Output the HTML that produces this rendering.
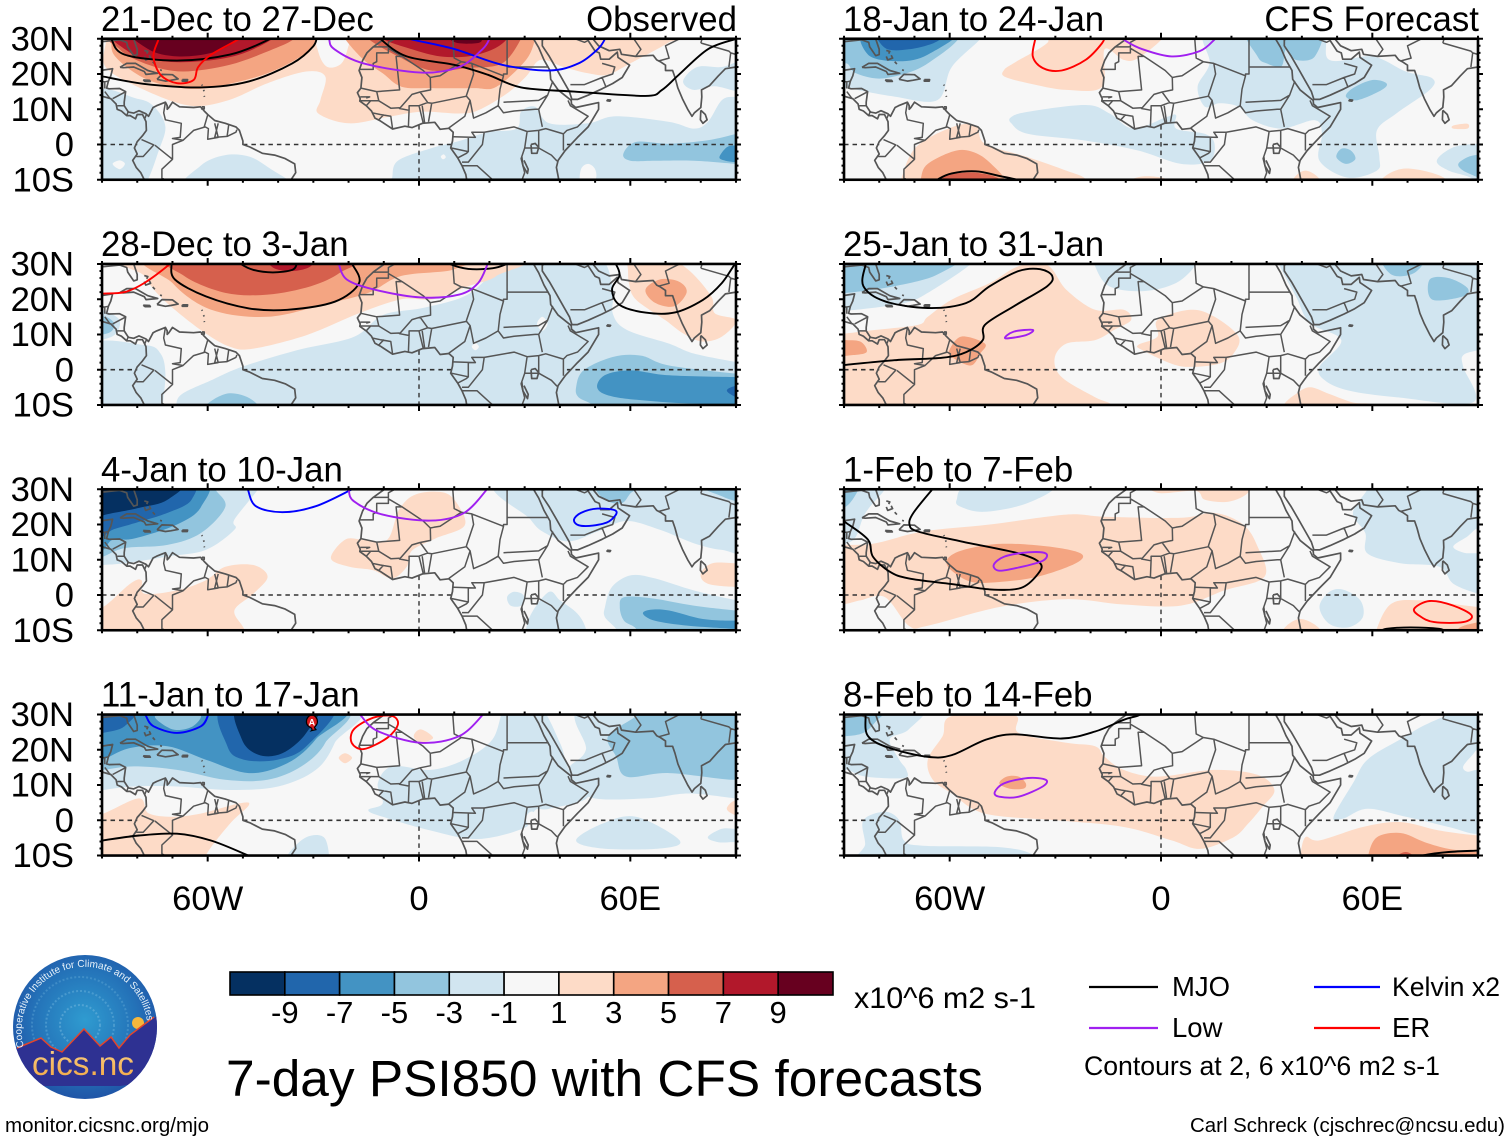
<!DOCTYPE html>
<html lang="en">
<head>
<meta charset="utf-8">
<title>7-day PSI850 with CFS forecasts</title>
<style>
html,body{margin:0;padding:0;background:#fff;width:1510px;height:1142px;overflow:hidden}
svg{display:block}
text{font-family:"Liberation Sans",Arial,sans-serif;fill:#000}
</style>
</head>
<body>
<svg id="chart" xmlns="http://www.w3.org/2000/svg" width="1510" height="1142" viewBox="0 0 1510 1142">
  <rect width="1510" height="1142" fill="#fff"/>
  <g id="panels"></g>
  <g id="colorbar"></g>

  <text x="854" y="1008" font-size="30" textLength="182" lengthAdjust="spacingAndGlyphs">x10^6 m2 s-1</text>
  <text x="226" y="1096" font-size="51.4" textLength="757" lengthAdjust="spacingAndGlyphs">7-day PSI850 with CFS forecasts</text>

  <g>
    <line x1="1089" x2="1158" y1="987" y2="987" stroke="#000" stroke-width="2.2"/>
    <text x="1172" y="996" font-size="27.5">MJO</text>
    <line x1="1314" x2="1380" y1="987" y2="987" stroke="#0000ff" stroke-width="2.2"/>
    <text x="1392" y="996" font-size="27" textLength="108" lengthAdjust="spacingAndGlyphs">Kelvin x2</text>
    <line x1="1089" x2="1158" y1="1028" y2="1028" stroke="#a020f0" stroke-width="2.2"/>
    <text x="1172" y="1037" font-size="27.5">Low</text>
    <line x1="1314" x2="1380" y1="1028" y2="1028" stroke="#ff0000" stroke-width="2.2"/>
    <text x="1392" y="1037" font-size="27.5">ER</text>
    <text x="1084" y="1075" font-size="26.4" textLength="356" lengthAdjust="spacingAndGlyphs">Contours at 2, 6 x10^6 m2 s-1</text>
  </g>

  <text x="5" y="1132" font-size="20.5" textLength="204" lengthAdjust="spacingAndGlyphs">monitor.cicsnc.org/mjo</text>
  <text x="1190" y="1132" font-size="20.5" textLength="315" lengthAdjust="spacingAndGlyphs">Carl Schreck (cjschrec@ncsu.edu)</text>

  <g>
    <defs>
      <radialGradient id="logoSky" cx="50%" cy="45%" r="60%">
        <stop offset="0" stop-color="#2f9bd0"/>
        <stop offset="0.6" stop-color="#2472b8"/>
        <stop offset="1" stop-color="#1f4ea3"/>
      </radialGradient>
      <linearGradient id="logoText" x1="0" y1="0" x2="0" y2="1">
        <stop offset="0" stop-color="#f9d48a"/>
        <stop offset="1" stop-color="#f2a33e"/>
      </linearGradient>
      <clipPath id="logoClip"><ellipse cx="85" cy="1027" rx="72" ry="72"/></clipPath>
      <path id="logoArc" d="M 24 1047 A 63 63 0 1 1 147 1021"/>
    </defs>
    <ellipse cx="85" cy="1027" rx="72" ry="72" fill="url(#logoSky)"/>
    <g clip-path="url(#logoClip)">
      <circle cx="80" cy="1025" r="20" fill="none" stroke="#6fb5dd" stroke-width="2" stroke-dasharray="2 2" opacity=".55"/>
      <circle cx="80" cy="1025" r="34" fill="none" stroke="#6fb5dd" stroke-width="2" stroke-dasharray="2 2" opacity=".45"/>
      <circle cx="80" cy="1025" r="48" fill="none" stroke="#6fb5dd" stroke-width="2" stroke-dasharray="2 2" opacity=".35"/>
      <circle cx="138" cy="1023" r="6" fill="#f6b73c"/>
      <polygon points="10,1050 17,1048 41,1038 51,1047 62,1052 84,1029 100,1046 111,1037 119,1048 130,1035 160,1014 165,1080 120,1086 40,1086 10,1080" fill="#2e3192"/>
      <polyline points="17,1048 41,1038 51,1047 62,1052 84,1029 100,1046 111,1037 119,1048 130,1035 154,1017" fill="none" stroke="#e2452c" stroke-width="1.5"/>
    </g>
    <text font-size="10" style="fill:#e8f2fa"><textPath href="#logoArc">Cooperative Institute for Climate and Satellites</textPath></text>
    <text x="32" y="1075" font-size="33.5" textLength="102" lengthAdjust="spacingAndGlyphs" style="fill:url(#logoText)">cics.nc</text>
  </g>
</svg>

<script>
// ---------- axis / category data ----------
const panelTitles = ['21-Dec to 27-Dec','28-Dec to 3-Jan','4-Jan to 10-Jan','11-Jan to 17-Jan','18-Jan to 24-Jan','25-Jan to 31-Jan','1-Feb to 7-Feb','8-Feb to 14-Feb'];
const latTickValues = [30,20,10,0,-10];
const latTickLabels = ['30N','20N','10N','0','10S'];
const lonTickValues = [-60,0,60];
const lonTickLabels = ['60W','0','60E'];
const colorbarLevels = [-10,-8,-6,-4,-2,0,2,4,6,8,10];
const colorbarTicks = ['-9','-7','-5','-3','-1','1','3','5','7','9'];

// ---------- PSI850 filled contours: [level, [[lon,lat],...]] ----------
const fill1 = [
 [-1,[[-93,14],[-80,13],[-75,10.5],[-72,5],[-74,-2],[-77,-10],[-80,-13],[-93,-13]]],
 [-1,[[-66,-13],[-62,-6],[-55,-3],[-48,-3.5],[-42,-7],[-36,-11],[-36,-14]]],
 [-1,[[-7.6,-13],[-7.6,-9.4],[-6,-4.6],[3,-1.2],[11.4,1],[19.5,3.5],[27.7,4.5],[29,9.3],[33,10.7],[37,6],[48,6],[56,8],[71,6.4],[78,4.5],[82,6.4],[86,12.6],[90,13.5],[94,13],[94,-13]]],
 [-1,[[75,18],[79,22],[86,22],[94,24],[94,15],[84,16.5],[78,15.5]]],
 [0,[[-87,-5.5],[-85,-4.5],[-83.5,-5.5],[-85,-7]]],
 [0,[[46,-7],[48,-5.5],[50,-7],[50,-10],[46,-11]]],
 [0,[[6.2,-3.4],[7,-2.8],[7.6,-3.6],[6.8,-4.2]]],
 [-3,[[58,-2.7],[61.6,0.7],[71,0.2],[82,1.2],[90,3],[94,4],[94,-6],[90,-5.5],[78,-4.6],[67,-4.6],[60,-4.6]]],
 [-5,[[85.3,-3.6],[87.4,-0.8],[90,-0.3],[94,-1],[94,-5],[90,-5],[87,-4.6]]],
 [1,[[-93,32],[-89,30],[-89,22],[-78,15.5],[-65,11],[-54,12.6],[-43,17.4],[-32,20.7],[-26.6,19.3],[-28,12.6],[-28.6,8.8],[-20,6],[-9,7.8],[0.5,9.3],[11.4,8.8],[16.8,9.7],[25,14.5],[30.4,19.3],[34.5,24],[41,22],[48,20.2],[53.5,19.8],[60,23],[71,29],[74,32]]],
 [0,[[-29,33],[-28.5,26],[-26,22],[-22,23],[-20,28],[-19,33]]],
 [3,[[-88,33],[-87.4,30],[-86.3,25],[-78,18.8],[-67.3,16],[-57.8,16.4],[-43,20.2],[-32,26],[-29.3,30],[-29,33]]],
 [3,[[-21.5,33],[-21,30],[-15.7,24],[-10.3,20.2],[-5,16.4],[3.3,16],[15.5,16],[22,16.4],[30.4,24],[33,30],[33.5,33]]],
 [5,[[-86,33],[-85,27],[-76.8,22.6],[-67,20.7],[-53.7,22.6],[-41.5,27],[-35.4,30],[-34,33]]],
 [5,[[-15,33],[-14.4,30],[-6,25],[3.3,21],[14,21.7],[23.6,23],[29,30],[29.5,33]]],
 [7,[[-85,33],[-82,26],[-72.7,23.6],[-62,23.6],[-51,25.5],[-41.5,30],[-40,33]]],
 [7,[[-11,33],[-10.3,30],[-2,27],[6,25],[14,25],[21,27],[25,30],[25.5,33]]],
 [9,[[-81,33],[-76.8,27],[-68.7,25],[-59,26],[-52,29.4],[-51,33]]],
 [9,[[8,33],[8.7,30],[11.4,28.7],[16.8,28.8],[18,30],[18.5,33]]]
];
const fill2 = [
 [-1,[[-50.3,0.8],[-34.7,5.5],[-18.5,9.3],[-10.3,15.5],[0.5,17.4],[11.4,20.2],[16.8,23.5],[22,29.3],[23,33],[49,33],[55,23.7],[55,16],[59,11.3],[71,7.4],[78,4.6],[90,2.2],[94,2],[94,-14],[-69,-14],[-69,-10.2],[-67.3,-6.9],[-59,-3]]],
 [-1,[[-94,6.5],[-78,7],[-73.4,4.6],[-72,-1.1],[-72.7,-10.2],[-72,-14],[-94,-14]]],
 [-1,[[-94,18],[-90,17],[-85,14],[-87,9.5],[-94,9]]],
 [0,[[33.5,13],[35,15],[36.5,13],[35,11]]],
 [0,[[15,6.5],[16,7.5],[17,6.5],[16,5.5]]],
 [-3,[[44.6,-5],[46.7,-0.2],[55,3.6],[63,4],[71,1.2],[90,-1.1],[94,-1],[94,-14],[49.4,-14],[49.4,-10.2],[45.3,-7.8]]],
 [-3,[[-60.5,-14],[-60.5,-10.2],[-55,-6.9],[-49.7,-7.4],[-45.6,-10.2],[-45,-14]]],
 [-3,[[-94,15.5],[-89,15],[-86.5,13],[-88,10.5],[-94,10]]],
 [-5,[[50.7,-5.4],[52.7,-1.6],[60.2,-0.2],[71,-1.6],[90,-2.1],[94,-2],[94,-14],[86,-10.2],[71,-9.3],[56,-7.8]]],
 [-7,[[87.4,-5.9],[90,-4.5],[94,-4],[94,-9],[90,-7.8]]],
 [1,[[-80,33],[-78,26.6],[-72.7,20],[-62,11.3],[-53.7,6.5],[-47,6],[-32,9.8],[-17,16],[-5,20],[4,20],[14,23.7],[22,26.6],[25,33]]],
 [1,[[59,30],[59.6,24.6],[61.6,19.9],[70,14],[75,10.3],[80.4,8],[86,9.4],[90,14],[84,16],[83,20.8],[76.3,28.5],[68,33],[56,33]]],
 [3,[[64.3,22.7],[67,19],[72.5,18],[76,22],[73.8,25],[68.4,25.6]]],
 [3,[[-73.4,33],[-70,24.6],[-59,17],[-43,15],[-26.6,18.6],[-14.4,21.8],[-5,26.6],[10,28.5],[10,33]]],
 [5,[[-70.5,33],[-66.7,26.6],[-55,21.8],[-43,21.3],[-30.7,23.7],[-22.5,27.5],[-17.8,33]]],
 [7,[[-43,33],[-41.5,29],[-36,28],[-30.7,29.4],[-30,33]]]
];
const fill3 = [
 [-1,[[-45.6,33],[-45.6,30.2],[-52.4,21.4],[-52.4,18.5],[-60.5,12.8],[-71.4,10.9],[-83.6,9],[-89.7,8.5],[-94,8],[-94,33]]],
 [-1,[[24.3,33],[31.7,21.4],[35.8,17.6],[42.6,15.2],[50.7,18],[58.9,21],[68.4,18.5],[78,14.7],[86,12.8],[94,13],[94,33]]],
 [-1,[[52.8,-3.4],[54.8,2.3],[60.2,5.6],[67,4.7],[78,1.3],[90,-1.5],[94,-2],[94,-14],[56.2,-14],[56.2,-10],[52.8,-6.3]]],
 [-1,[[25,-0.6],[27,0.9],[29.7,-0.1],[29,-3],[26,-3]]],
 [-1,[[30.4,-14],[30.4,-9.6],[32.4,-4.4],[37,0.9],[40,-1.5],[45,-5.3],[47.4,-9.6],[47.4,-14]]],
 [-3,[[-57.8,33],[-57.8,30],[-55,25],[-61.9,17.6],[-71.4,14.2],[-83.6,13.3],[-89.7,10.9],[-94,10],[-94,33]]],
 [-3,[[50.7,31],[52.8,27],[57.5,26],[60.2,29],[63,31]]],
 [-3,[[80.6,31],[86,28],[90,26.6],[94,26],[94,33]]],
 [-3,[[57,-3.4],[58.3,-0.6],[66.4,-1],[78,-3],[90,-4.4],[94,-4.5],[94,-14],[61.6,-14],[61.6,-9.6],[58.2,-7.3]]],
 [-5,[[-61.9,33],[-61.9,25],[-68.7,20],[-81,16],[-87,15.7],[-89.7,12.8],[-94,12],[-94,33]]],
 [-5,[[63.6,-5.3],[65.7,-4.2],[71,-4.4],[80.6,-6.8],[90,-7.3],[94,-7],[94,-9.8],[90,-9.6],[76.5,-8.7],[67,-7.3]]],
 [-7,[[-66,33],[-64.6,27],[-71.4,23.3],[-82,20],[-87,18.5],[-89.7,16.6],[-94,15],[-94,33]]],
 [-9,[[-67.3,33],[-71.4,27],[-79.5,24.7],[-89,22.8],[-94,21],[-94,33]]],
 [1,[[-94,-14],[-94,-3],[-89.7,-3.4],[-82,3.2],[-78.8,4.2],[-78,0.4],[-68.7,1.3],[-60.5,4.2],[-55,8],[-47,8.5],[-43,5.2],[-47,0.4],[-52.4,-4.4],[-49.7,-9.6],[-49,-14]]],
 [1,[[-25,10.4],[-21,15.7],[-15.7,15.7],[-9,15.7],[-5.6,24.3],[-0.8,28.6],[7.3,29],[11.4,25],[12.8,19.5],[4.6,16],[-2,12.6],[-3.5,8],[-7.6,4.7],[-13,7],[-19.8,8]]],
 [1,[[80,6],[83.3,9],[90,9],[94,9],[94,2.5],[90,2.3],[82,3.2]]]
];
const fill4 = [
 [-1,[[-20.5,33],[-23.9,22],[-29.3,14.3],[-40,9.6],[-53.7,8.6],[-68.7,9.6],[-81,9.6],[-89.7,8.6],[-94,8],[-94,33]]],
 [-1,[[-14.4,2.9],[-10.3,4.8],[-11.7,10.5],[-7.6,15.3],[3.3,14.3],[12.8,17.2],[20.9,23],[25,33],[33.8,33],[40,22],[42.6,14.3],[48,6.7],[37,3.3],[33,2.9],[30.4,-1.9],[16.8,-5.3],[3.3,-2.9],[-10.3,1]]],
 [-1,[[47.4,33],[47.4,20],[42.6,14.3],[48,6.7],[64.3,6.2],[76.5,7.6],[90,6.2],[94,6],[94,33]]],
 [-1,[[44.6,-5.7],[52,-1],[61.6,1],[74,-5.7],[68.4,-8],[52,-8]]],
 [-1,[[82,-4.8],[86,-2.4],[90,-2.4],[94,-2],[94,-7],[90,-6.2],[85,-6.2]]],
 [-1,[[-37.4,-14],[-37.4,-10],[-32,-4.8],[-26.6,-5.3],[-26.6,-14]]],
 [0,[[30.5,1],[32,2.5],[34,1],[33,-1],[31,-1.5]]],
 [-3,[[-24,33],[-26.6,22],[-33.4,15.3],[-43,11.5],[-55,11.5],[-68.7,14.3],[-81,15.3],[-89.7,14.3],[-94,14],[-94,33]]],
 [-3,[[53.7,23.9],[61.6,29.6],[63,33],[94,33],[94,14],[90,11.5],[71,13.4],[58.9,12.4],[56,18]]],
 [-5,[[-24,33],[-29.3,23],[-37.4,16.2],[-48.3,13.4],[-60.5,17.2],[-71.4,21],[-82,20.5],[-89.7,17.2],[-94,16],[-94,33]]],
 [-3,[[-75,29.5],[-68,29.8],[-62,29.8],[-64.5,26.5],[-70,25.8]]],
 [-7,[[-24.6,33],[-32,21],[-40.2,17.2],[-49.7,17.2],[-54.4,21],[-55,33]]],
 [-7,[[-94,24],[-89.7,24.8],[-83.6,26.7],[-79.5,33],[-94,33]]],
 [-9,[[-29.3,33],[-32,24.8],[-38.8,19],[-45.6,18.6],[-50.3,23],[-51,33]]],
 [1,[[-94,2],[-89.7,1.9],[-79.5,6.2],[-76.8,2],[-70,1],[-62,1.9],[-51,4.8],[-48.3,4.3],[-53.7,-1],[-60.5,-10],[-60,-14],[-94,-14]]],
 [1,[[-22.8,17.7],[-21,19],[-19,17.7],[-21,16.2]]],
 [1,[[-1.5,23.9],[0.5,25.8],[4,23.4],[0.5,22]]],
 [1,[[87.4,3.3],[90,5.7],[94,4],[94,1],[90,1.4]]]
];
const fill5 = [
 [-1,[[-51.3,33],[-51.3,30],[-59.4,22],[-63.5,12.6],[-75.7,13.6],[-89.3,16],[-94,16],[-94,33]]],
 [-1,[[-42.5,7.8],[-37.7,9.3],[-21.4,11.2],[-14.6,8.8],[-7.9,4.5],[1.6,7.8],[4.3,8.3],[4.3,4.5],[12.5,3],[15.2,0.2],[13.8,-4.6],[5.7,-5.5],[-6.5,-1.7],[-21.4,1.1],[-37.7,3],[-42.5,6]]],
 [-1,[[10.4,16.4],[13.8,23],[13.8,33],[43.7,33],[47.8,24],[60,25],[69.5,20.7],[77,18.8],[76.3,15.5],[66.8,8.8],[61.3,4],[62,-3.6],[61.3,-7.4],[53,-9.4],[45,-4.6],[45.7,3],[43.7,6.9],[34.2,4.5],[26,6.9],[22,10.7],[16.6,11.7],[12.5,10.7]]],
 [-1,[[78.3,-4.6],[83,-0.8],[90,0.2],[94,0],[94,-14],[88.5,-14],[88.5,-9.8],[81.7,-7.4]]],
 [-3,[[-58,33],[-66.2,23],[-78.4,18.8],[-86.6,20.2],[-89.3,23],[-94,22],[-94,33]]],
 [-3,[[24.7,33],[27.4,25],[30,23],[34.2,22.2],[35.5,27],[38.3,24],[43.7,25],[44.4,33]]],
 [-3,[[52.5,13.6],[54.5,16],[60,18.3],[64,17.4],[62.7,15.5],[55.9,12.6]]],
 [-3,[[49.8,-3.6],[51.2,-1.2],[53.9,-1.7],[55.2,-4.1],[52.5,-5.5]]],
 [-3,[[84.4,-5.5],[87,-3.6],[90,-2.9],[94,-3],[94,-12],[90,-9.4],[85.8,-7.4]]],
 [-5,[[-83.2,33],[-83.2,25.5],[-74.4,23.6],[-66.2,25.5],[-57.4,33]]],
 [-7,[[-79.8,33],[-78.4,27.4],[-71.6,27],[-63.5,29.3],[-62,33]]],
 [1,[[-44.5,21.2],[-41.8,23.1],[-32.3,28.8],[-31,33],[0.3,33],[0.3,30],[-6.5,24.5],[-10.6,24],[-16,27],[-16.7,16.4],[-26.9,15.5],[-37.7,17.4],[-44.5,19.3]]],
 [1,[[-73.7,-14],[-73.7,-9.8],[-69.6,-0.8],[-59.4,4.9],[-52.6,5.4],[-50,0.2],[-37.7,-3.6],[-26.9,-7.4],[-21.4,-9.8],[-21,-14]]],
 [1,[[37.6,-14],[37.6,-9.8],[41,-7.4],[45,-9.8],[45,-14]]],
 [1,[[62.7,-14],[62.7,-9.8],[69.5,-6.8],[80.3,-9.4],[80.3,-14]]],
 [1,[[-8,-12],[-8,-9.8],[-3.8,-9],[1.6,-9.8],[1.6,-12]]],
 [1,[[83,5.4],[87,5.9],[87,4.5],[83,4.5]]],
 [3,[[-68.2,-14],[-68.2,-9.8],[-66.2,-5.5],[-58,-1.7],[-52,-2.7],[-47.2,-6.5],[-44.5,-9.8],[-44,-14]]],
 [5,[[-63.2,-14],[-63.2,-9.8],[-59.4,-8.4],[-52.6,-8],[-45.9,-9.8],[-46,-14]]]
];
const fill6 = [
 [-1,[[-54,33],[-54,30],[-66.2,21.8],[-73,18.9],[-86.6,17],[-89.3,17],[-94,17],[-94,33]]],
 [-1,[[-18.7,33],[-18.7,29.4],[-14.7,23.7],[-5,22.3],[4.3,24.6],[9.8,29.7],[9.8,33]]],
 [-1,[[33.5,33],[33.5,30],[38.3,20.8],[42.3,13.2],[51.2,8.4],[45,0.8],[46.5,-3],[53.2,-5.9],[66.8,-7.8],[88.5,-9.3],[85.8,0.8],[85.8,4.1],[90,5.5],[94,6],[94,33]]],
 [-3,[[-58,33],[-63.5,27],[-75.7,23.7],[-89.3,21.8],[-94,22],[-94,33]]],
 [-3,[[76.3,25.6],[81.7,26],[87,23.2],[85.8,20.8],[77,19.9]]],
 [-3,[[62.7,33],[65.4,27],[72,27.5],[75,33]]],
 [1,[[-94,10],[-89.3,10.3],[-81,11.3],[-69,12.7],[-66.2,15],[-59.4,19.9],[-48.6,24.6],[-40.4,29.4],[-32.3,29.7],[-26.9,22.7],[-18.7,17],[-10.6,17],[-8.5,14.1],[-13.3,11.3],[-18.7,8.4],[-26.9,7.4],[-30.2,3.2],[-28.2,-2.1],[-18.7,-7.8],[-14,-10],[-14,-14],[-94,-14]]],
 [1,[[-6.5,7],[-1,9.4],[-1,14.1],[8.4,17],[15.2,15],[22,9.4],[20.6,4.6],[16.5,1.7],[8.4,0.8],[3,1.7],[-5.2,5.5]]],
 [1,[[34.9,-14],[34.9,-10],[38.3,-6.9],[42.3,-5],[47.8,-6.9],[54.5,-9.3],[60,-10],[60,-14]]],
 [3,[[-60.1,5.5],[-56.7,9.4],[-50,7.4],[-51.3,4.6],[-54,1.2],[-59.4,3.6]]],
 [3,[[-94,8.4],[-89.3,8.4],[-85.2,7.9],[-83.6,5],[-88,4.1],[-94,4]]]
];
const fill7 = [
 [-1,[[-78.4,33],[-78.4,30],[-83.9,23.3],[-86.6,16.6],[-89.3,14.7],[-94,14],[-94,33]]],
 [-1,[[-58,27],[-54,31],[-31,31],[-38.1,26],[-50,23.6],[-56.8,25]]],
 [-1,[[58.6,33],[58.6,30],[54.5,23.3],[58,17.6],[58.6,11.8],[68,9],[79,8],[83,3.2],[90,0.4],[94,0],[94,33]]],
 [0,[[83,13.8],[87,16.6],[90,19],[94,19],[94,11],[90,11.8],[86,12]]],
 [-1,[[45,-3.4],[47.8,0.9],[51.8,1.5],[56.6,-1.5],[57.3,-6.3],[53.2,-9.2],[47.8,-8.2]]],
 [-3,[[-85.9,33],[-85.9,30],[-89.3,25.2],[-94,25],[-94,33]]],
 [1,[[-94,14],[-89.3,14.2],[-81,14.7],[-67.6,18],[-48.6,20],[-26.9,22.8],[-16,22.2],[5.7,21.9],[15.2,23.3],[23.3,20],[27.4,13.8],[29.4,5.2],[18,1.3],[5.7,-3],[-10.6,-2.7],[-26.9,-1.2],[-45.9,-3.4],[-66.2,-8.7],[-71.6,-8.7],[-78.4,-0.6],[-85.2,-1.5],[-89.3,-2.5],[-94,-3]]],
 [1,[[-3.8,33],[-1,29],[9.8,29.5],[12.5,27],[19.3,26.5],[24.7,29],[24.7,33]]],
 [1,[[61.3,-14],[61.3,-9.6],[65.4,-2.5],[73.5,-1.5],[90,-3.4],[94,-3],[94,-14]]],
 [1,[[34.9,-14],[34.9,-9.6],[39.6,-6.8],[45,-9.6],[45,-14]]],
 [3,[[-60.8,9.9],[-56.7,12.6],[-45.9,14.5],[-32.3,13.8],[-22.8,11.8],[-24.2,9],[-35,5.2],[-45.9,3.7],[-53.7,3.7],[-59.4,6.9]]],
 [3,[[84.4,-14],[84.4,-9.6],[90,-7.7],[94,-7],[94,-14]]]
];
const fill8 = [
 [-1,[[-67.6,33],[-71.6,25.8],[-77,23],[-74.3,17.2],[-72.3,14.3],[-73,12],[-83.9,12.4],[-89.3,14.3],[-94,14],[-94,33]]],
 [-1,[[-84.5,0],[-78.4,2.4],[-74.3,0],[-73,-5.7],[-67.6,-7.2],[-45.9,-7.6],[-36.4,-9.8],[-36,-14],[-84,-14],[-84,-6.7]]],
 [-1,[[49,1],[54.5,10.5],[58.6,17.2],[68,23],[76.3,27.7],[90,33],[94,33],[94,0],[90,-3.8],[81.7,-1.9],[69.5,1],[58.6,3.3],[51.8,0.5]]],
 [0,[[85.8,15.3],[88.5,18.6],[90,20],[94,20],[94,13],[90,14.3],[87,13.8]]],
 [-3,[[-77.5,33],[-81,28],[-84.5,24.8],[-89.3,23.9],[-94,24],[-94,33]]],
 [1,[[-66.2,17.2],[-62,23.9],[-59.4,29.6],[-41.8,29.9],[-40.4,24.8],[-26.9,22],[-18.7,21],[-16,18],[-10.6,14.3],[-1,12.4],[15.2,14.3],[27.4,12.9],[32.2,8.6],[28.8,3.8],[24.7,-1],[20.6,-4.8],[11.1,-8.1],[3,-5.7],[-10.6,-1.9],[-29.6,0],[-50,1.9],[-59.4,7.6],[-64.8,11.5]]],
 [1,[[39.6,-14],[39.6,-10],[41,-4.8],[45,-5.7],[57.3,-1.9],[68,-0.5],[79,-2.9],[90,-4.3],[94,-4],[94,-14]]],
 [3,[[-45.9,10.5],[-43.8,12.4],[-40.4,12.4],[-38.4,10.5],[-39,9],[-43.1,9]]],
 [3,[[58.8,-14],[58.8,-10],[61.3,-4.8],[68,-3.6],[74.9,-6.2],[81.7,-8.1],[90,-9],[94,-9],[94,-14]]],
 [5,[[67.3,-12],[67.3,-10],[69.5,-9],[71.5,-10],[71.5,-12]]]
];
const panelFills = [fill1,fill2,fill3,fill4,fill5,fill6,fill7,fill8];

// ---------- filtered contour lines: [wave, closed, [[lon,lat],...]] ----------
const lines1 = [
 ['mjo',0,[[-89.7,19.3],[-78,17.2],[-62,16.2],[-48.3,17.9],[-36,23],[-30,27.9],[-29,31]]],
 ['mjo',0,[[-88,32],[-87.4,30],[-83.6,25.5],[-68.7,23.8],[-53.7,25.5],[-43,29.6],[-42,31]]],
 ['mjo',0,[[-12,32],[-11,30],[-3.5,25],[10,22.6],[19.5,19.8],[29,16.2],[44,15],[64.3,13.8],[69,15.5],[73.8,19.8],[82,27],[90,30],[92,31]]],
 ['kelvin',0,[[-3,30.5],[-2,29.8],[10.3,27],[23.6,22.6],[37,21],[45.3,23],[50.7,27],[52.8,30],[53,32]]],
 ['low',0,[[-25.6,32],[-25.5,29.8],[-24,27],[-15.7,23],[0.5,20.4],[11.4,22],[18,27],[20,30],[20.5,32]]],
 ['er',0,[[-74,31],[-74,29.8],[-75.4,25],[-73.4,19.8],[-68.7,17.4],[-64,18.3],[-62.7,22],[-59,25.5],[-51.7,29.6],[-50,31]]]
];
const lines2 = [
 ['mjo',0,[[-70.3,31],[-70.3,30],[-69.3,25.6],[-60.5,20.8],[-48.3,17.4],[-37.4,17],[-23.9,19.3],[-17,24.6],[-19,30],[-20,31]]],
 ['mjo',0,[[-51,31],[-50.6,30],[-47,28.3],[-41.5,27.6],[-36,28.3],[-34.7,30],[-34.5,31]]],
 ['mjo',0,[[8,31],[8.7,30],[14,28.6],[21,28.8],[25,30],[27,31]]],
 ['mjo',0,[[55,31],[56.2,29.4],[56.9,26.6],[54.8,22.8],[56.9,18.4],[64.3,16.2],[72.5,16.2],[80.6,19.8],[86,24.6],[90,30.4],[92,32]]],
 ['low',0,[[-23,31],[-22.8,30],[-20.5,25.6],[-13,22.8],[0.5,20.5],[11.4,21.3],[16.8,24.6],[19.5,30],[20,31]]],
 ['er',0,[[-92,21.6],[-89.7,21.6],[-83.6,22],[-78,24.6],[-70.7,30],[-69,32]]]
];
const lines3 = [
 ['kelvin',0,[[-48.8,31],[-48.6,30],[-46.3,25.2],[-38.8,23.5],[-29.3,25.2],[-19,30],[-17,31]]],
 ['kelvin',1,[[44,21.4],[46,23.3],[50.7,24.5],[56,23.8],[54,20.9],[49.4,19.7],[45.3,19.8]]],
 ['low',0,[[-20.3,31],[-20,30],[-18.5,26.6],[-10.3,22.8],[3.3,21.1],[12.8,23.3],[19.3,30],[19.6,31]]]
];
const lines4 = [
 ['kelvin',0,[[-78,31],[-77.5,29.6],[-75.4,26.7],[-68.7,24.8],[-61.9,26.7],[-59.8,30],[-59.6,31]]],
 ['er',1,[[-19.1,22],[-18.5,25.8],[-13,29.1],[-7.6,29.6],[-6,27.2],[-9,23.4],[-15.7,20.2]]],
 ['low',0,[[-17,31],[-16.4,29.6],[-11.7,25.3],[0.5,22],[11.4,23.9],[18.2,30],[18.8,31]]],
 ['mjo',0,[[-92,-6],[-89.7,-5.7],[-79.5,-4.3],[-68.7,-3.8],[-59.2,-5.7],[-49,-9.8],[-47,-11]]]
];
const lines5 = [
 ['er',0,[[-35.6,31],[-35.7,30],[-36.4,25],[-33.6,21.7],[-28.2,21],[-21.4,24],[-16.7,28.8],[-16,31]]],
 ['low',0,[[-11,30.5],[-9.9,29.3],[-5.2,27],[3,25],[11,26.5],[15.2,29.8],[16,31]]],
 ['mjo',0,[[-64,-11],[-63.2,-9.8],[-59.4,-8.2],[-52.6,-7.6],[-45.9,-8.9],[-40.4,-10.1],[-39,-11]]]
];
const lines6 = [
 ['mjo',0,[[-92,1.2],[-89.3,1.4],[-75.7,2.7],[-62,3.4],[-55.3,5],[-50.6,8.4],[-50,12.7],[-41.8,18],[-32.3,23.7],[-30.9,26.6],[-34.3,28.5],[-40.4,28],[-48.6,23.7],[-55.4,18.9],[-66.2,17.5],[-78.4,19.4],[-84.5,23.7],[-83.9,29.7],[-83.5,31]]],
 ['low',1,[[-44.2,8.9],[-41.8,10.8],[-36.4,11.3],[-38.4,9.8]]]
];
const lines7 = [
 ['mjo',0,[[-64,31],[-64.9,30],[-70.3,23.3],[-71.4,20],[-69,18],[-56.7,15.2],[-40.4,11.8],[-34.3,9],[-35,5.9],[-39.8,2],[-48.6,1.6],[-59.4,3.1],[-71.6,4.7],[-77,6.6],[-81.8,10.9],[-83.2,15.7],[-89.3,20.4],[-92,22]]],
 ['low',1,[[-47.5,8.5],[-44.5,10.9],[-37.7,12.1],[-32.7,11.8],[-33.6,9.7],[-40.4,7.8],[-45.9,6.9]]],
 ['er',1,[[71.9,-3.9],[76.3,-1.7],[83,-3],[88.2,-5.8],[85.8,-7.7],[77.6,-7.7],[73.5,-6]]],
 ['mjo',0,[[62,-10.5],[64,-9.6],[70.8,-9.2],[79,-9.6],[81,-10.5]]]
];
const lines8 = [
 ['mjo',0,[[-84,31],[-83.9,29.7],[-83.2,23.9],[-77,20.5],[-66.2,18],[-59.4,18.5],[-49.9,22.8],[-41.8,24.4],[-28.2,23.2],[-18.7,25.2],[-10.6,28.5],[-6.5,29.7],[-4,31]]],
 ['mjo',0,[[72,-11],[74.2,-10],[81.7,-9],[90,-8.6],[92,-8.6]]],
 ['low',1,[[-47.2,8],[-44.5,10.5],[-37.7,12],[-32.7,11.5],[-33.6,9.6],[-40.4,6.7],[-45.9,6.7]]]
];
const panelLines = [lines1,lines2,lines3,lines4,lines5,lines6,lines7,lines8];

// tropical cyclone marker: [panelIndex, lon, lat, label]
const stormMarkers = [[3,-30.4,27.7,'A']];

// ---------- map outlines (lon,lat) ----------
const coastlines = [
 [[-92,14.3],[-90,13.7],[-87.5,13],[-86,11.5],[-85.7,10],[-84.5,9.5],[-83,8.2],[-82,8.2],[-80.5,7.3],[-80,8.5],[-78.5,8.5],[-78,7.5],[-77.5,6.5],[-77.4,4],[-78.5,2.5],[-80,0.8],[-80.8,-1],[-80,-2.7],[-81.3,-4.5],[-80.3,-6.5],[-79,-8],[-78,-10],[-77.5,-12]],
 [[-92,18.6],[-91,19],[-90.4,21],[-87,21.5],[-87.5,19.5],[-88.2,18],[-88.7,16],[-88,15.8],[-85,15.9],[-83.3,15],[-83.7,12],[-83.7,11],[-82.5,9.2],[-81,8.9],[-79.5,9.6],[-77.5,8.7],[-76.8,8],[-75.5,10.5],[-74.5,11],[-72,12],[-71.5,11],[-71.5,10],[-71,10.5],[-70,12],[-68,10.7],[-64,10.5],[-62,10.7],[-61,9.5],[-60,8.5],[-58,6.8],[-55,6],[-52,5],[-51,4],[-50,1],[-50,0],[-48,-0.7],[-44.5,-2.5],[-41,-3],[-38,-4],[-35.3,-5.5],[-35,-8],[-37,-11],[-38,-13]],
 [[-92,29.3],[-90,29.2],[-85,29.7],[-83,29],[-82.7,27.7],[-81,25.2],[-80,25.5],[-80,27],[-81,30],[-81,32]],
 [[-84.9,21.9],[-83,23],[-80.5,23],[-77,21],[-74.2,20.2],[-77.5,19.9],[-78,20.7],[-81,22],[-84,21.8],[-84.9,21.9]],
 [[-74.4,18.5],[-73,19.9],[-70,19.8],[-68.4,18.6],[-70.5,18.2],[-72,18],[-74.4,18.5]],
 [[-78.3,18.3],[-76.5,18.2],[-76.3,17.9],[-77.8,17.9],[-78.3,18.3]],
 [[-67.2,18.4],[-65.7,18.4],[-65.8,18],[-67.2,18],[-67.2,18.4]],
 [[-78,26.7],[-77,26.4],[-77.3,25.8]],[[-78,25],[-77.6,24],[-76.2,24.5],[-76.6,25.3]],[[-75.6,23.5],[-75,22.8]],[[-73.5,21.2],[-73,21]],
 [[-61.7,17],[-61.5,16.7]],[[-61.2,15.5],[-61,15.1]],[[-61,13.8],[-60.9,13.5]],
 [[-61.6,10.7],[-61,10.7],[-61,10.1],[-61.7,10.1],[-61.6,10.7]],
 [[-8.5,32],[-9.8,30],[-13,27.7],[-14.8,26],[-16,23.8],[-17,21],[-16.2,19],[-16.5,16],[-17.5,14.7],[-16.7,13],[-16.8,12.3],[-15,11],[-13.5,9.5],[-12.5,7.5],[-11,6.7],[-7.5,4.4],[-4,5.2],[-2,4.8],[1,6],[4.5,6.3],[6,4.3],[8.5,4.6],[9.7,3.5],[9.5,1],[9,-1],[11,-3.8],[12.2,-6],[13.3,-8.5],[13.7,-11],[13.5,-13]],
 [[32.5,32],[32.5,30],[34,27.5],[35.5,24],[37.2,21],[37.4,18.5],[39.5,15.5],[43.2,12.5],[43.3,11.5],[44.5,10.5],[51,11.9],[51,10],[48,5],[45,2],[41.5,-1.7],[39.5,-4.5],[39,-6.5],[39.7,-10],[40.5,-13]],
 [[35,32],[35,28],[37,25],[39,21.5],[41,18],[42.7,15],[43.4,12.8],[45,12.8],[48,14],[52,15.8],[55,17.3],[57.7,19],[59.8,22.5],[56.5,24.7],[56.3,26.2],[54,24.2],[51.6,24.2],[51.2,26],[50,26.5],[48,29.5],[47.8,30],[49,30.4],[51,28],[54,26.6],[57,27],[57.5,25.6],[61.5,25],[66.5,25.3],[67.5,24],[68.5,23.5],[70,22.5],[70,21],[72,21],[72.7,19],[73.5,16],[74.8,13],[76.3,10],[77.5,8],[78.2,9],[80,10.5],[80.3,13.5],[80.2,15.5],[82.5,16.7],[85,19.5],[87,21.5],[90,22],[92,21]],
 [[80,9.7],[81.3,8.5],[81.8,7],[80.6,6],[79.9,7],[80,9.7]],
 [[53.4,12.7],[54.4,12.6],[54.2,12.3],[53.4,12.4],[53.4,12.7]],
 [[31.8,0],[33,0.3],[34,-0.8],[33.5,-2.5],[32,-2.5],[31.8,0]],
 [[29.2,-3.5],[29.5,-6],[30.8,-8.2],[31,-7],[29.8,-4.5]]
];
const borders = [
 [[-13,27.7],[-8.7,27.7],[-8.7,29],[-5,31]],
 [[-17,21.3],[-13,21.3],[-13,23],[-12,23.5],[-12,26],[-8.7,26],[-8.7,27.3],[-4.8,25],[-6.5,25],[-5.5,15.5],[-12,15],[-16.5,16]],
 [[-4.8,25],[1.2,21],[3.2,19],[4.2,19.2],[6,19.5],[12,23.5],[10,24.5],[9.5,31]],
 [[12,23.5],[15,23],[24,19.5],[24,20],[25,20],[25,22],[25,32]],
 [[25,22],[36.8,22]],
 [[3.2,19],[3.3,15.5],[0.3,14.9],[-2,14.2],[-5.5,10.2],[-2.8,9.7]],
 [[15,23],[15.5,20],[13.5,14],[13.5,13.7],[3.6,11.7],[2.7,6.4]],
 [[1.6,6.2],[0.9,11]],[[1.2,6.1],[0,11]],[[-3,5],[-2.8,10],[-2.8,11],[0,11],[2.4,11.9],[3.6,11.7]],[[2.4,12],[0.3,14.9]],
 [[-12,15],[-11.4,12.4],[-16.7,12.4]],[[-16.7,13.5],[-14,13.5],[-15,13.2]],[[-11.4,12.4],[-8,10.3],[-5.5,10.4]],[[-13.3,9],[-11,8.5],[-8,8],[-7.5,4.4]],[[-15,11],[-13.7,12.4]],[[-11.4,7],[-10,8.5]],
 [[24,19.5],[23,15.7],[22.5,11],[19,9],[15.5,7.5],[14.5,12.5],[13.5,13.7]],
 [[14.5,12.5],[13,8],[8.5,4.7]],
 [[9.8,2.2],[16,2],[15,3.5],[18.5,3.5],[27,5],[30.7,3.7],[34,4]],
 [[22.5,11],[24,9],[27,9.5],[33,10],[34,10],[35,5]],
 [[24,12],[34,12.5],[36.5,14],[34,10]],[[36.5,14],[38,18]],[[42.3,12.5],[43,11],[48,8],[45,5],[42,4],[41,3]],
 [[41,-1.7],[41,3],[36,4.5],[34,4],[34,-1],[37.6,-3],[39.2,-4.7]],[[30,-1],[34,-1]],[[40,-10.5],[35,-11]],
 [[30.7,3.7],[30,-1],[29,-4],[30,-8],[28.5,-12]],
 [[9.2,-1],[14,-2],[13.5,-2.5],[11,-3.8]],[[14,2],[14,-2]],[[12.2,-6],[16.5,-6],[22,-11]],[[12.2,-5],[14,-5],[18,0],[18.5,3.5]],
 [[43,17],[47,17],[52,19],[55,20],[55.6,22],[52,23]],[[52,19],[53,16.5]],[[36,32],[39,32],[47,29],[48,29.5]],[[35,29.5],[37,32]],
 [[61.5,25],[63,27],[61,30],[61,32]],[[68,23.7],[71,24.5],[70,28],[74,30],[75,32]],[[80,28.8],[88,26.5],[88.5,26],[88,22]],[[88.5,26],[92,25]],[[80,28.8],[81,32]],
 [[-77.3,8.7],[-77.9,7.2]],
 [[-72,12],[-72.5,9],[-72,7],[-67.5,6],[-67.8,2],[-70,1.7],[-67,1.2],[-70,0],[-70,-4.2],[-75,-0.2]],
 [[-78.8,1.4],[-75.3,-0.1],[-78.3,-3.4],[-80.3,-3.4]],
 [[-70,-4.2],[-73,-7],[-73,-9.5],[-70.5,-11],[-65.4,-10],[-60,-13]],
 [[-67,1.2],[-64,4],[-60.7,5],[-61,5],[-60,8.4]],[[-60.7,5],[-59.8,4.5],[-60,1.5],[-57,2],[-58,6]],[[-57,6],[-58,2],[-54.5,2.3],[-54,5.8]],[[-54.5,2.3],[-52,3.5],[-51.7,4.2]],
 [[-92,17.8],[-89.2,17.8],[-88.2,18]],[[-89.2,15.9],[-89.2,17.8]],[[-89.2,15],[-87.7,13]],[[-83.2,15],[-87,13]],[[-83.7,11],[-85.7,11]],[[-83,8.2],[-82.5,9.5]]
];
// ocean-only segments of the reference lines
const equatorSegments = [[-90,-80],[-50,9.5],[42,90]];
const meridianSegment = [5.5,-10];

// ---------- scales ----------
const NS = 'http://www.w3.org/2000/svg';
const PX_PER_DEG = 3.522;
const LAT_PX_PER_DEG = 3.525;
const columnZeroX = [419,1161];
const rowEquatorY = [144.5,369.7,595,820.3];
const LON_MIN = -90, LON_MAX = 90, LAT_MIN = -10, LAT_MAX = 30;
function binColor(i){
  const c = ['#053061','#2166ac','#4393c3','#92c5de','#d1e5f0','#f7f7f7','#fddbc7','#f4a582','#d6604d','#b2182b','#67001f'];
  return c[i];
}
function fillColor(v){
  const lv = [-9,-7,-5,-3,-1,0,1,3,5,7,9];
  return binColor(lv.indexOf(v));
}
const waveColor = {mjo:'#000000',kelvin:'#0000ff',low:'#a020f0',er:'#ff0000'};

function mk(tag, attrs, parent){
  const el = document.createElementNS(NS, tag);
  for (const k in attrs) el.setAttribute(k, attrs[k]);
  if (parent) parent.appendChild(el);
  return el;
}
function smooth(pts, closed){
  const n = pts.length;
  const at = i => closed ? pts[(i+n)%n] : pts[Math.max(0,Math.min(n-1,i))];
  let d = 'M' + pts[0][0].toFixed(1) + ' ' + pts[0][1].toFixed(1);
  const last = closed ? n : n-1;
  for (let i=0;i<last;i++){
    const p0=at(i-1),p1=at(i),p2=at(i+1),p3=at(i+2);
    const c1x=p1[0]+(p2[0]-p0[0])/6,c1y=p1[1]+(p2[1]-p0[1])/6;
    const c2x=p2[0]-(p3[0]-p1[0])/6,c2y=p2[1]-(p3[1]-p1[1])/6;
    d+='C'+c1x.toFixed(1)+' '+c1y.toFixed(1)+' '+c2x.toFixed(1)+' '+c2y.toFixed(1)+' '+p2[0].toFixed(1)+' '+p2[1].toFixed(1);
  }
  return d + (closed ? 'Z' : '');
}
function straight(pts){
  return 'M' + pts.map(p => p[0].toFixed(1)+' '+p[1].toFixed(1)).join('L');
}

// ---------- draw panels ----------
const root = document.getElementById('panels');
const defs = mk('defs', {}, root);
panelTitles.forEach((title, idx) => {
  const col = idx < 4 ? 0 : 1;
  const row = idx % 4;
  const xScale = lon => columnZeroX[col] + lon * PX_PER_DEG;
  const yScale = lat => rowEquatorY[row] - lat * LAT_PX_PER_DEG;
  const project = pts => pts.map(p => [xScale(p[0]), yScale(p[1])]);
  const L = xScale(LON_MIN), R = xScale(LON_MAX), T = yScale(LAT_MAX), B = yScale(LAT_MIN);

  const g = mk('g', {}, root);
  
  

  const cp = mk('clipPath', {id:'clip' + idx}, defs);
  mk('rect', {x:L, y:T, width:R-L, height:B-T}, cp);

  const body = mk('g', {'clip-path':'url(#clip' + idx + ')'}, g);
  const bg = mk('rect', {x:L, y:T, width:R-L, height:B-T, fill:'#f7f7f7'}, body);
  
  

  panelFills[idx].forEach(entry => {
    const path = mk('path', {d:smooth(project(entry[1]), true), fill:fillColor(entry[0])}, body);
    
    
  });

  // ocean-only reference dashes
  equatorSegments.forEach(seg => {
    const eq = mk('line', {x1:xScale(seg[0]), x2:xScale(seg[1]), y1:yScale(0), y2:yScale(0), stroke:'#333', 'stroke-width':1.6, 'stroke-dasharray':'4.5 4'}, body);
    
    
  });
  const mer = mk('line', {x1:xScale(0), x2:xScale(0), y1:yScale(meridianSegment[0]), y2:yScale(meridianSegment[1]), stroke:'#333', 'stroke-width':1.4, 'stroke-dasharray':'4.5 4'}, body);
  
  

  // map
  const coastD = coastlines.map(c => straight(project(c))).join('');
  const coast = mk('path', {d:coastD, fill:'none', stroke:'#555', 'stroke-width':1.7, 'stroke-linejoin':'round'}, body);
  
  
  const borderD = borders.map(c => straight(project(c))).join('');
  const bord = mk('path', {d:borderD, fill:'none', stroke:'#555', 'stroke-width':1.5, 'stroke-linejoin':'round'}, body);
  
  

  // wave contours
  panelLines[idx].forEach(entry => {
    const line = mk('path', {d:smooth(project(entry[2]), !!entry[1]), fill:'none', stroke:waveColor[entry[0]], 'stroke-width':1.9}, body);
    
    
  });

  // storm markers
  stormMarkers.filter(s => s[0] === idx).forEach(s => {
    const sx = xScale(s[1]), sy = yScale(s[2]);
    const mark = mk('path', {d:'M'+(sx-5.5)+' '+(sy-1)+'a5.5 6.5 0 1 1 11 0c0 4-3 5-3 6l1.5 2-4.5 1c1-1 .5-2-.5-3-2-1-4.5-2-4.5-6z', fill:'#d7191c', stroke:'#000', 'stroke-width':1.2}, body);
    
    
    const mt = mk('text', {x:sx, y:sy+3, 'font-size':9, 'font-weight':'bold', 'text-anchor':'middle', style:'fill:#fff'}, body);
    
    
    mt.textContent = s[3];
  });

  // ticks
  let tickD = '';
  for (let lon = LON_MIN; lon <= LON_MAX; lon += 10){
    const len = lonTickValues.includes(lon) ? 6 : 3;
    tickD += 'M'+xScale(lon)+' '+T+'v'+(-len)+'M'+xScale(lon)+' '+B+'v'+len;
  }
  for (let lat = LAT_MIN; lat <= LAT_MAX; lat += 2){
    const len = latTickValues.includes(lat) ? 5 : 2.5;
    tickD += 'M'+L+' '+yScale(lat)+'h'+(-len)+'M'+R+' '+yScale(lat)+'h'+len;
  }
  const ticks = mk('path', {d:tickD, fill:'none', stroke:'#000', 'stroke-width':2}, g);
  
  

  // frame
  const fr = mk('rect', {x:L, y:T, width:R-L, height:B-T, fill:'none', stroke:'#000', 'stroke-width':2.6}, g);
  
  

  // title
  const tt = mk('text', {x:L - 1, y:T - 8, 'font-size':34.8}, g);
  
  
  tt.textContent = title;

  if (row === 0){
    const side = mk('text', {x:R + 1, y:T - 8, 'font-size':34.8, 'text-anchor':'end'}, g);
    
    
    side.textContent = col === 0 ? 'Observed' : 'CFS Forecast';
  }

  // y labels only on left column
  if (col === 0){
    latTickValues.forEach((lat, i) => {
      const t = mk('text', {x:74, y:yScale(lat) + 11.6, 'font-size':34.6, 'text-anchor':'end'}, g);
      
      
      t.textContent = latTickLabels[i];
    });
  }
  // x labels on bottom row
  if (row === 3){
    lonTickValues.forEach((lon, i) => {
      const t = mk('text', {x:xScale(lon), y:910, 'font-size':34.6, 'text-anchor':'middle'}, g);
      
      
      t.textContent = lonTickLabels[i];
    });
  }
});

// ---------- colorbar ----------
const cb = document.getElementById('colorbar');
const CB_X = 230, CB_W = 603, CB_Y = 972, CB_H = 23;
const cbScale = i => CB_X + (CB_W / colorbarLevels.length) * i;
colorbarLevels.forEach((lv, i) => {
  const r = mk('rect', {x:cbScale(i), y:CB_Y, width:cbScale(i+1)-cbScale(i), height:CB_H, fill:binColor(i), stroke:'#000', 'stroke-width':1.6}, cb);
  
  
});
colorbarTicks.forEach((label, i) => {
  const t = mk('text', {x:cbScale(i+1), y:1023, 'font-size':31, 'text-anchor':'middle'}, cb);
  
  
  t.textContent = label;
});
</script>
</body>
</html>
